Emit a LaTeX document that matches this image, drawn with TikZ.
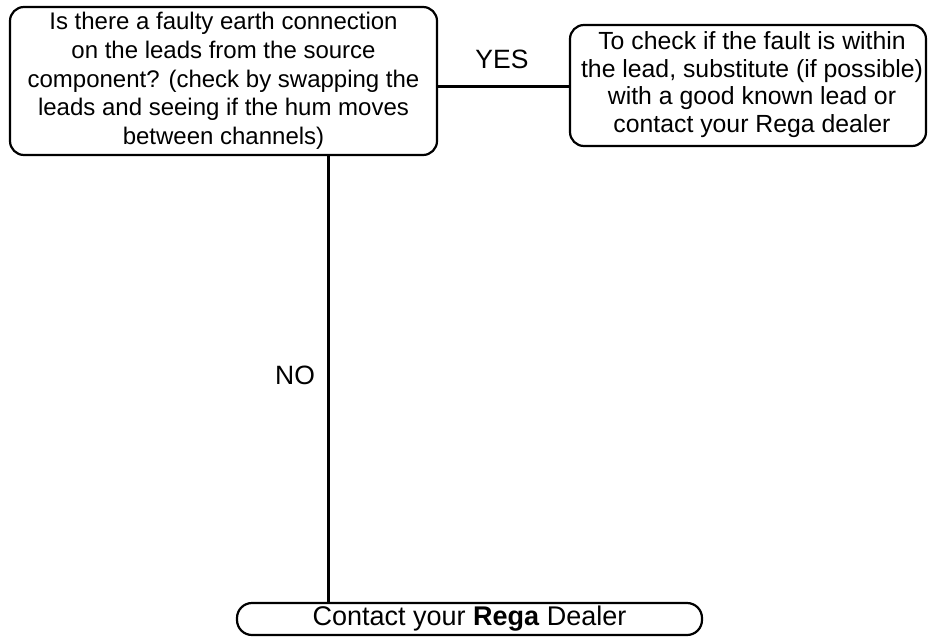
\documentclass[tikz,border=0pt]{standalone}
\usepackage{fontspec}
\setmainfont{Liberation Sans}
\begin{document}
\begin{tikzpicture}[x=1pt,y=-1pt,
  box/.style={draw, line width=2.2pt, rounded corners=14pt, align=center, inner sep=0pt},
  lbl/.style={font=\fontsize{26.5}{30}\selectfont, inner sep=0pt},
  conn/.style={line width=2.2pt}]
\useasboundingbox (0,0) rectangle (928,637);
\node[box, font=\fontsize{24}{28.75}\selectfont, minimum width=427pt, minimum height=148pt] (q) at (223.5,81)
  {Is there a faulty earth connection\\on the leads from the source\\component? (check by swapping the\\leads and seeing if the hum moves\\between channels)};
\node[draw, line width=2.2pt, rounded corners=14pt, inner sep=0pt, font=\fontsize{24.8}{27.5}\selectfont, minimum width=356pt, minimum height=121pt] (a) at (748,85.5)
  {\hspace*{8pt}\begin{tabular}{@{}c@{}}To check if the fault is within\\the lead, substitute (if possible)\\with a good known lead or\\contact your Rega dealer\end{tabular}};
\node[box, font=\fontsize{27}{30}\selectfont, rounded corners=15pt, minimum width=465pt, minimum height=32pt] (d) at (469.5,619)
  {Contact your \textbf{Rega} Dealer};
\coordinate (hy) at (0,86.5);
\coordinate (vx) at (328.5,0);
\draw[conn] (q.east |- hy) -- (a.west |- hy);
\draw[conn] (q.south -| vx) -- (d.north -| vx);
\node[lbl] (yes) at (502,59) {YES};
\node[lbl] (no) at (295,375) {NO};
\end{tikzpicture}
\end{document}
